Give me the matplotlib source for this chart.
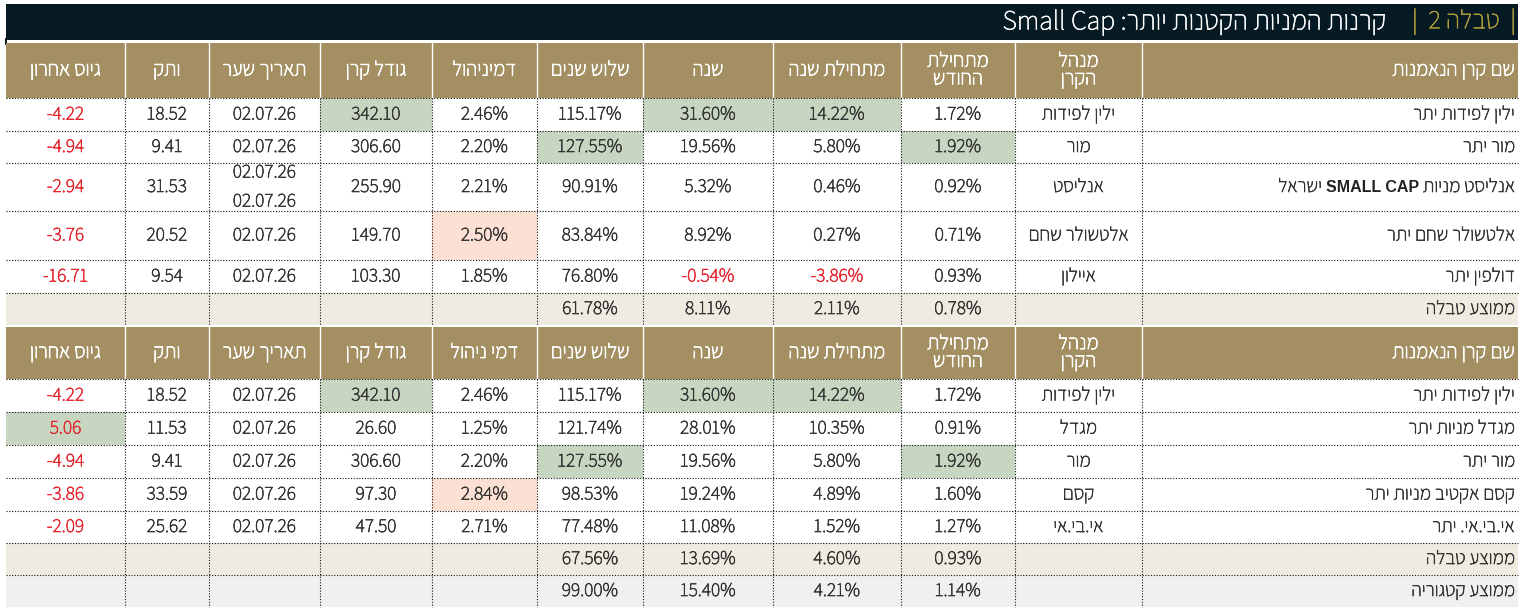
import re
import matplotlib
matplotlib.use('Agg')
import matplotlib.pyplot as plt
import matplotlib.patheffects as pe
from matplotlib.patches import Rectangle

# table data (logical order, right to left)
title_tag = 'טבלה 2'
title_text = 'קרנות המניות הקטנות יותר: Small Cap'

headers1 = ['שם קרן הנאמנות', 'מנהל\nהקרן', 'מתחילת\nהחודש', 'מתחילת שנה', 'שנה',
            'שלוש שנים', 'דמיניהול', 'גודל קרן', 'תאריך שער', 'ותק', 'גיוס אחרון']
headers2 = ['שם קרן הנאמנות', 'מנהל\nהקרן', 'מתחילת\nהחודש', 'מתחילת שנה', 'שנה',
            'שלוש שנים', 'דמי ניהול', 'גודל קרן', 'תאריך שער', 'ותק', 'גיוס אחרון']

names1 = ['ילין לפידות יתר', 'מור יתר', 'אנליסט מניות SMALL CAP ישראל', 'אלטשולר שחם יתר', 'דולפין יתר']
managers1 = ['ילין לפידות', 'מור', 'אנליסט', 'אלטשולר שחם', 'איילון']
month1 = [1.72, 1.92, 0.92, 0.71, 0.93]
ytd1 = [14.22, 5.80, 0.46, 0.27, -3.86]
year1 = [31.60, 19.56, 5.32, 8.92, -0.54]
three1 = [115.17, 127.55, 90.91, 83.84, 76.80]
fee1 = [2.46, 2.20, 2.21, 2.50, 1.85]
size1 = [342.10, 306.60, 255.90, 149.70, 103.30]
dates1 = ['02.07.26', '02.07.26', '02.07.26\n02.07.26', '02.07.26', '02.07.26']
age1 = [18.52, 9.41, 31.53, 20.52, 9.54]
raise1 = [-4.22, -4.94, -2.94, -3.76, -16.71]
avg1 = [0.78, 2.11, 8.11, 61.78]

names2 = ['ילין לפידות יתר', 'מגדל מניות יתר', 'מור יתר', 'קסם אקטיב מניות יתר', 'אי.בי.אי. יתר']
managers2 = ['ילין לפידות', 'מגדל', 'מור', 'קסם', 'אי.בי.אי']
month2 = [1.72, 0.91, 1.92, 1.60, 1.27]
ytd2 = [14.22, 10.35, 5.80, 4.89, 1.52]
year2 = [31.60, 28.01, 19.56, 19.24, 11.08]
three2 = [115.17, 121.74, 127.55, 98.53, 77.48]
fee2 = [2.46, 1.25, 2.20, 2.84, 2.71]
size2 = [342.10, 26.60, 306.60, 97.30, 47.50]
dates2 = ['02.07.26'] * 5
age2 = [18.52, 11.53, 9.41, 33.59, 25.62]
raise2 = [-4.22, 5.06, -4.94, -3.86, -2.09]
avg2 = [0.93, 4.60, 13.69, 67.56]
category_avg = [1.14, 4.21, 15.40, 99.00]

avg_label = 'ממוצע טבלה'
cat_label = 'ממוצע קטגוריה'

# colours
BAR = '#061a24'
GOLD = '#a38f61'
TAG = '#b5a13c'
GREEN = '#c7d6c1'
PINK = '#fbe0d3'
BEIGE = '#efebe1'
GREY = '#eff1f1'
TEXT = '#333333'
RED = '#e5262e'

plt.rcParams['font.family'] = ['Assistant', 'DejaVu Sans']
FS = 14

# column edges in pixels, left to right
edges = [6, 125, 209, 320, 432, 537, 643, 773, 901, 1015, 1142, 1518]


def rtl(s):
    # visual order for hebrew lines; latin/digit runs keep their order
    out = []
    for line in s.split('\n'):
        if re.search('[\u0590-\u05FF]', line):
            r = line[::-1]
            r = re.sub(r'[A-Za-z0-9][A-Za-z0-9 ]*[A-Za-z0-9]|[A-Za-z0-9]', lambda m: m.group(0)[::-1], r)
            out.append(r)
        else:
            out.append(line)
    return '\n'.join(out)


def col_span(i):
    # logical column i (0 = fund name) counted from the right
    return edges[10 - i], edges[11 - i]


fig = plt.figure(figsize=(15.22, 6.14), dpi=100)
ax = fig.add_axes([0, 0, 1, 1])
ax.set_xlim(0, 1522)
ax.set_ylim(614, 0)
ax.axis('off')
renderer = fig.canvas.get_renderer()


def put(x, y, s, color, size=FS, thick=0.45, **kw):
    # the light face gets a thin stroke so it reads like the original weight
    kw.setdefault('ha', 'center')
    return ax.text(x, y, s, color=color, fontsize=size, va='center',
                   path_effects=[pe.withStroke(linewidth=thick, foreground=color)], **kw)


def name_text(xr, y, s, color):
    # right aligned hebrew line; latin words get a bold sans face like the original
    parts = re.split(r'([A-Z][A-Z ]*[A-Z])', s)
    x = xr
    for p in parts:
        if not p:
            continue
        if re.match('[A-Z]', p):
            t = ax.text(x, y + 1, p, ha='right', va='center', family='Liberation Sans',
                        weight='bold', fontsize=FS - 2.5, color='#222222')
        else:
            t = put(x, y, rtl(p), color, ha='right')
        x -= t.get_window_extent(renderer).width


# title bar
ax.add_patch(Rectangle((6, 4), 1512, 36, color=BAR, lw=0))
ax.add_patch(Rectangle((5, 38), 2, 7, color=BAR, lw=0))
put(1516, 22, rtl('|  ' + title_tag + '  |'), TAG, size=19, thick=0.3, ha='right')
put(1387, 22, rtl(title_text), 'white', size=20, thick=0.4, ha='right')


def fmt_cols(month, ytd, year, three, fee, size, age, rais):
    return [[f'{v:.2f}%' for v in month], [f'{v:.2f}%' for v in ytd],
            [f'{v:.2f}%' for v in year], [f'{v:.2f}%' for v in three],
            [f'{v:.2f}%' for v in fee], [f'{v:.2f}' for v in size],
            None, [f'{v:.2f}' for v in age], [f'{v:.2f}' for v in rais]]


def draw_table(top, header_h, row_hs, headers, names, managers, month, ytd, year,
               three, fee, size, dates, age, rais, avgs, cat=None):
    x0, x1 = edges[0], edges[-1]
    # header
    ax.add_patch(Rectangle((x0, top), x1 - x0, header_h, color=GOLD, lw=0))
    for e in edges[1:-1]:
        ax.plot([e, e], [top, top + header_h], color='white', lw=1)
    for i, h in enumerate(headers):
        a, b = col_span(i)
        if i == 0:
            put(b - 3, top + header_h / 2, rtl(h), 'white', size=FS + 1, thick=0.6, ha='right')
        else:
            put((a + b) / 2, top + header_h / 2, rtl(h), 'white', size=FS + 1, thick=0.6,
                linespacing=0.85)

    numeric = [month, ytd, year, three, fee, size, None, age, rais]
    texts = fmt_cols(month, ytd, year, three, fee, size, age, rais)
    # best returns / size / raise in green, highest fee in pink
    marks = {}
    for k in (0, 1, 2, 3, 5, 8):
        vals = numeric[k]
        best = max(range(len(vals)), key=lambda j: vals[j])
        if k == 8 and vals[best] <= 0:
            continue
        marks[(best, k + 2)] = GREEN
    marks[(max(range(len(fee)), key=lambda j: fee[j]), 6)] = PINK

    y = top + header_h
    row_tops = []
    for r, h in enumerate(row_hs):
        row_tops.append(y)
        for (rr, c), colr in marks.items():
            if rr == r:
                a, b = col_span(c)
                ax.add_patch(Rectangle((a, y), b - a, h, color=colr, lw=0))
        yc = y + h / 2
        a, b = col_span(0)
        name_text(b - 3, yc, names[r], TEXT)
        a, b = col_span(1)
        put((a + b) / 2, yc, rtl(managers[r]), TEXT)
        for k in range(9):
            a, b = col_span(k + 2)
            if k == 6:
                s = dates[r]
                colr = TEXT
            else:
                s = texts[k][r]
                colr = RED if (k == 8 or numeric[k][r] < 0) else TEXT
            put((a + b) / 2, yc, s, colr, linespacing=1.6)
        y += h

    extra = [(avg_label, avgs, BEIGE)]
    if cat is not None:
        extra.append((cat_label, cat, GREY))
    for label, vals, bg in extra:
        h = 32
        row_tops.append(y)
        ax.add_patch(Rectangle((x0, y), x1 - x0, h, color=bg, lw=0))
        yc = y + h / 2
        a, b = col_span(0)
        put(b - 3, yc, rtl(label), TEXT, ha='right')
        for k, v in enumerate(vals):
            a, b = col_span(k + 2)
            put((a + b) / 2, yc, f'{v:.2f}%', TEXT)
        y += h

    # dotted grid
    for t in row_tops:
        ax.plot([x0, x1], [t, t], color='#111111', lw=0.8, ls=(0, (1, 1.5)))
    for e in edges[1:-1]:
        ax.plot([e, e], [top + header_h, y], color='#111111', lw=0.8, ls=(0, (1, 1.5)))
    return y


end1 = draw_table(43, 55, [33, 32, 48, 49, 33], headers1, names1, managers1, month1, ytd1,
                  year1, three1, fee1, size1, dates1, age1, raise1, avg1)
draw_table(end1 + 2, 52, [33, 33, 33, 33, 32], headers2, names2, managers2, month2, ytd2,
           year2, three2, fee2, size2, dates2, age2, raise2, avg2, category_avg)

fig.savefig('out.png', dpi=100)
